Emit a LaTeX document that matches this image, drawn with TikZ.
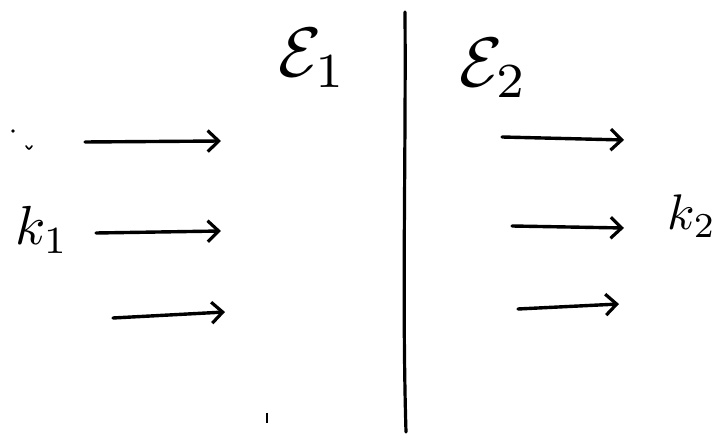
\documentclass[tikz,border=0pt]{standalone}
\usetikzlibrary{arrows.meta}
\begin{document}
\begin{tikzpicture}[x=1pt,y=-1pt,
  wave/.style={line width=3.4pt,line cap=round,-{Straight Barb[length=11pt,width=21pt,line width=3.2pt]}},
  wall/.style={line width=3.2pt,line cap=round},
  lbl/.style={inner sep=0pt,anchor=center}]
\useasboundingbox[fill=white] (0,0) rectangle (716,435);
% wall
\coordinate (wtop) at (405,12);
\coordinate (wbot) at (406,432);
\draw[wall] (wtop) .. controls (406,150) and (402,300) .. (wbot);
% incoming arrows
\coordinate (a1s) at (85,142); \coordinate (a1e) at (221,141);
\coordinate (a2s) at (96,233); \coordinate (a2e) at (221,231);
\coordinate (a3s) at (113,318); \coordinate (a3e) at (225,312);
\draw[wave] (a1s) -- (a1e);
\draw[wave] (a2s) -- (a2e);
\draw[wave] (a3s) -- (a3e);
% transmitted arrows
\coordinate (b1s) at (502,137); \coordinate (b1e) at (624,140);
\coordinate (b2s) at (512,226); \coordinate (b2e) at (624,228);
\coordinate (b3s) at (518,309); \coordinate (b3e) at (619,304);
\draw[wave] (b1s) -- (b1e);
\draw[wave] (b2s) -- (b2e);
\draw[wave] (b3s) -- (b3e);
% labels
\node[lbl] (eps1) at (313,58) {\scalebox{7}{$\mathcal{E}_1$}};
\node[lbl] (eps2) at (494,68) {\scalebox{7}{$\mathcal{E}_2$}};
\node[lbl] (k1) at (42,230) {\scalebox{5.5}{$k_1$}};
\node[lbl] (k2) at (692,216) {\scalebox{5}{$k_2$}};
% stray marks
\fill (13,131) circle (1.8pt);
\draw[line width=1.6pt,line cap=round] (26,146) .. controls (29,150) .. (32,146);
\draw[line width=1.2pt] (267,413) -- (267,423);
\end{tikzpicture}
\end{document}
